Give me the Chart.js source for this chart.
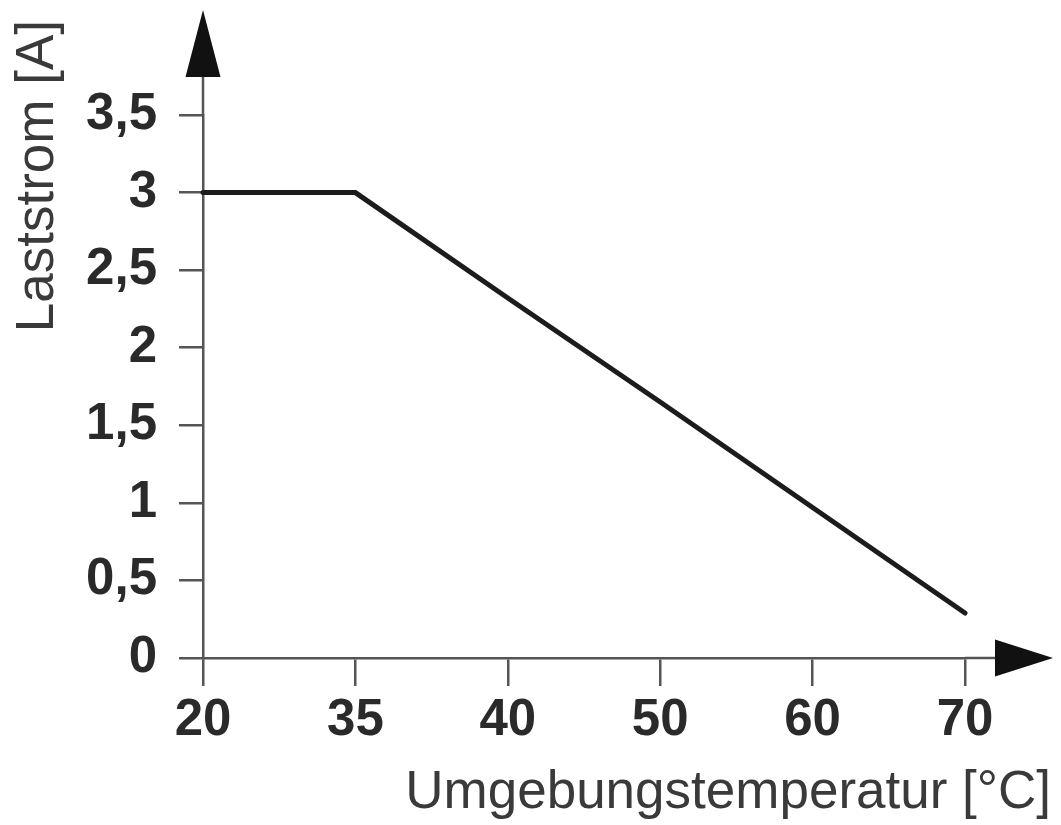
<!DOCTYPE html>
<html>
<head>
<meta charset="utf-8">
<title>Laststrom über Umgebungstemperatur</title>
<script src="https://cdn.jsdelivr.net/npm/chart.js@4/dist/chart.umd.min.js"></script>
<style>
  html, body { margin: 0; padding: 0; background: #ffffff; }
  #derating-chart { display: block; }
</style>
</head>
<body>
<canvas id="derating-chart" width="1061" height="825"></canvas>
<script>
const temperatureLabels = ['20', '35', '40', '50', '60', '70'];
const loadCurrent = [3, 3, 2.32, 1.65, 0.97, 0.29];
const yTickValues = [0, 0.5, 1, 1.5, 2, 2.5, 3, 3.5];
const yTickLabels = ['0', '0,5', '1', '1,5', '2', '2,5', '3', '3,5'];
const xAxisTitle = 'Umgebungstemperatur [°C]';
const yAxisTitle = 'Laststrom [A]';

const axisColor = '#555555';
const textColor = '#2a2a2a';
const tickFont = { family: "'Liberation Sans', Arial, sans-serif", size: 51, weight: 'bold' };
const titleFont = "53px 'Liberation Sans', Arial, sans-serif";

// arrows, axis extensions and axis titles
const axisDecor = {
  id: 'axisDecor',
  afterDraw(chart) {
    const { ctx, chartArea } = chart;
    const x0 = chart.scales.x.left;
    const y0 = chart.scales.y.getPixelForValue(0);
    ctx.save();
    ctx.strokeStyle = axisColor;
    ctx.fillStyle = '#111111';
    ctx.lineWidth = 2.5;

    ctx.beginPath();
    ctx.moveTo(x0, chartArea.top);
    ctx.lineTo(x0, 77);
    ctx.moveTo(chartArea.right, y0);
    ctx.lineTo(995, y0);
    ctx.stroke();

    ctx.beginPath();
    ctx.moveTo(x0, 10);
    ctx.lineTo(x0 + 17.5, 77);
    ctx.lineTo(x0 - 17.5, 77);
    ctx.closePath();
    ctx.fill();

    ctx.beginPath();
    ctx.moveTo(1053, y0);
    ctx.lineTo(995, y0 - 18.5);
    ctx.lineTo(995, y0 + 18.5);
    ctx.closePath();
    ctx.fill();

    ctx.fillStyle = '#3a3a3a';
    ctx.font = titleFont;
    ctx.textAlign = 'right';
    ctx.textBaseline = 'alphabetic';
    ctx.fillText(xAxisTitle, 1051, 808);

    ctx.translate(53, 20);
    ctx.rotate(-Math.PI / 2);
    ctx.textAlign = 'right';
    ctx.fillText(yAxisTitle, 0, 0);
    ctx.restore();
  },
};

new Chart(document.getElementById('derating-chart'), {
  type: 'line',
  data: {
    labels: temperatureLabels,
    datasets: [
      {
        data: loadCurrent,
        borderColor: '#1c1c1c',
        borderWidth: 5,
        borderCapStyle: 'round',
        borderJoinStyle: 'miter',
        pointRadius: 0,
        tension: 0,
        fill: false,
        clip: false,
      },
    ],
  },
  options: {
    responsive: false,
    animation: false,
    events: [],
    layout: {
      padding: { top: 115, right: 96, bottom: 0, left: 0 },
    },
    scales: {
      x: {
        type: 'category',
        offset: false,
        afterFit: (scale) => { scale.height = 167; },
        border: { display: true, color: axisColor, width: 2.5 },
        grid: {
          drawOnChartArea: false,
          drawTicks: true,
          tickLength: 28,
          color: axisColor,
          lineWidth: 2.5,
        },
        ticks: {
          color: textColor,
          font: tickFont,
          padding: 4,
          maxRotation: 0,
          autoSkip: false,
        },
      },
      y: {
        type: 'linear',
        min: 0,
        max: 3.5,
        afterFit: (scale) => { scale.width = 203; },
        afterBuildTicks: (scale) => {
          scale.ticks = yTickValues.map((value) => ({ value }));
        },
        border: { display: true, color: axisColor, width: 2.5 },
        grid: {
          drawOnChartArea: false,
          drawTicks: true,
          tickLength: 24,
          color: axisColor,
          lineWidth: 2.5,
        },
        ticks: {
          color: textColor,
          font: tickFont,
          padding: 22,
          callback: (value) => yTickLabels[yTickValues.indexOf(value)],
        },
      },
    },
    plugins: {
      legend: { display: false },
      tooltip: { enabled: false },
    },
  },
  plugins: [axisDecor],
});
</script>
</body>
</html>
